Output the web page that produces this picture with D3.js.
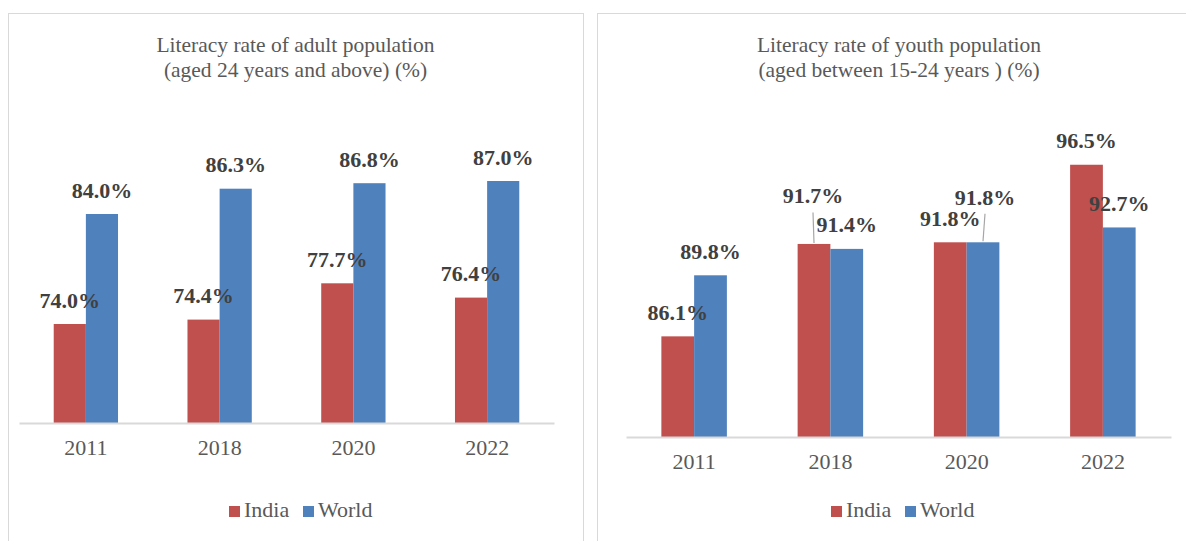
<!DOCTYPE html>
<meta charset="utf-8">
<style>
body { margin: 0; background: #fff; }
text { font-family: "Liberation Serif", "Times New Roman", serif; }
.title { fill: #595959; font-size: 21.5px; }
.tick-label { fill: #595959; font-size: 22px; }
.legend-label { fill: #595959; font-size: 22px; }
.value { fill: #404040; font-size: 22px; font-weight: bold; }
</style>
<svg width="1186" height="541"></svg>
<script src="https://cdn.jsdelivr.net/npm/d3@7"></script>
<script>

// data
var years = ["2011", "2018", "2020", "2022"],
    series = ["India", "World"],
    adultIndia = [74.0, 74.4, 77.7, 76.4],
    adultWorld = [84.0, 86.3, 86.8, 87.0],
    youthIndia = [86.1, 91.7, 91.8, 96.5],
    youthWorld = [89.8, 91.4, 91.8, 92.7];

var colors = {India: "#c0504d", World: "#4f81bd"};

var svg = d3.select("svg");

var panels = [
  {
    title: ["Literacy rate of adult population", "(aged 24 years and above) (%)"],
    values: {India: adultIndia, World: adultWorld},
    box: [8.5, 13.5, 575, 560],
    x: [19, 554], y: [423, 93], domain: [65, 95],
    titleX: 295.5, tickY: 455, legendX: 300,
    nudge: {}
  },
  {
    title: ["Literacy rate of youth population", "(aged between 15-24 years ) (%)"],
    values: {India: youthIndia, World: youthWorld},
    box: [597.5, 13.5, 620, 560],
    x: [626, 1171], y: [437, 107], domain: [80, 100],
    titleX: 899, tickY: 469, legendX: 902,
    // labels Excel moved by hand, with a leader line
    nudge: {"India|2018": [-1, -24], "World|2020": [2, -21]}
  }
];

panels.forEach(function(p) {
  var g = svg.append("g");

  g.append("rect")
      .attr("x", p.box[0]).attr("y", p.box[1])
      .attr("width", p.box[2]).attr("height", p.box[3])
      .attr("fill", "none")
      .attr("stroke", "#d9d9d9")
      .attr("stroke-width", 1);

  g.selectAll(".title")
    .data(p.title)
    .enter().append("text")
      .attr("class", "title")
      .attr("x", p.titleX)
      .attr("y", function(d, i) { return 52 + i * 25; })
      .attr("text-anchor", "middle")
      .text(function(d) { return d; });

  var x0 = d3.scaleBand().domain(years).range(p.x).padding(0),
      x1 = d3.scaleBand().domain(series).range([0, x0.bandwidth()]).paddingInner(0).paddingOuter(1.08),
      y = d3.scaleLinear().domain(p.domain).range(p.y);

  var rows = [];
  years.forEach(function(yr, i) {
    series.forEach(function(s) {
      rows.push({year: yr, series: s, value: p.values[s][i]});
    });
  });

  g.selectAll(".bar")
    .data(rows)
    .enter().append("rect")
      .attr("class", "bar")
      .attr("x", function(d) { return x0(d.year) + x1(d.series); })
      .attr("y", function(d) { return y(d.value); })
      .attr("width", x1.bandwidth())
      .attr("height", function(d) { return y(p.domain[0]) - y(d.value); })
      .attr("fill", function(d) { return colors[d.series]; });

  // axis line and year labels
  var axis = g.append("g")
      .attr("transform", "translate(0," + p.y[0] + ")")
      .call(d3.axisBottom(x0).tickSize(0).tickPadding(0));
  axis.select(".domain").attr("stroke", "#d9d9d9").attr("stroke-width", 2);
  axis.selectAll(".tick text")
      .attr("class", "tick-label")
      .attr("fill", null)
      .attr("font-size", null)
      .attr("font-family", null)
      .attr("dy", null)
      .attr("y", p.tickY - p.y[0]);

  // data labels
  var labels = g.selectAll(".lab")
    .data(rows)
    .enter().append("g")
      .attr("class", "lab");

  labels.each(function(d) {
    var n = p.nudge[d.series + "|" + d.year] || [0, 0],
        cx = x0(d.year) + x1(d.series) + x1.bandwidth() / 2,
        top = y(d.value),
        lx = cx + n[0],
        ly = top - 16.5 + n[1];
    var sel = d3.select(this);
    if (n[1] !== 0) {
      sel.append("line")
          .attr("x1", lx).attr("y1", ly + 9)
          .attr("x2", cx).attr("y2", top - 1)
          .attr("stroke", "#a6a6a6")
          .attr("stroke-width", 1.2);
    }
    sel.append("text")
        .attr("class", "value")
        .attr("x", lx)
        .attr("y", ly)
        .attr("text-anchor", "middle")
        .text(d.value.toFixed(1) + "%");
  });

  // legend
  var legend = g.append("g").attr("transform", "translate(" + (p.legendX - 71) + ",0)");
  var item = legend.selectAll(".item")
    .data(series)
    .enter().append("g")
      .attr("class", "item")
      .attr("transform", function(d, i) { return "translate(" + (i * 74) + ",0)"; });
  item.append("rect")
      .attr("x", 0).attr("y", 506)
      .attr("width", 11).attr("height", 11)
      .attr("fill", function(d) { return colors[d]; });
  item.append("text")
      .attr("class", "legend-label")
      .attr("x", 15)
      .attr("y", 517)
      .text(function(d) { return d; });
});

</script>
